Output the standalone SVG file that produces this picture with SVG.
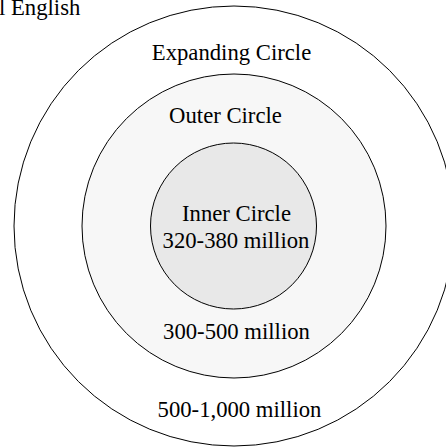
<svg xmlns="http://www.w3.org/2000/svg" width="446" height="447" viewBox="0 0 446 447">
<style>
.c{stroke:#000;stroke-width:1}
.t{font-family:"Liberation Serif","Times New Roman",serif;font-size:22.7px;fill:#000;text-anchor:middle}
</style>
<rect width="446" height="447" fill="#fff"/>
<text class="t" x="-1" y="14.5" style="text-anchor:start">l English</text>
<g id="expanding">
<circle class="c" cx="234" cy="226" r="220" fill="#fff"/>
<text class="t" x="231.5" y="60">Expanding Circle</text>
<text class="t" x="239.5" y="417">500-1,000 million</text>
</g>
<g id="outer">
<circle class="c" cx="234" cy="226" r="152" fill="#f7f7f7"/>
<text class="t" x="225.5" y="123">Outer Circle</text>
<text class="t" x="236.5" y="339">300-500 million</text>
</g>
<g id="inner">
<circle class="c" cx="233.5" cy="226" r="83" fill="#e8e8e8"/>
<text class="t" x="236.5" y="221">Inner Circle</text>
<text class="t" x="236" y="248">320-380 million</text>
</g>
<g id="connectors"/>
</svg>
